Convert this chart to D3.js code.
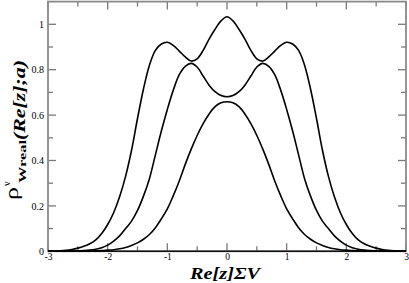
<!DOCTYPE html>
<html>
<head>
<meta charset="utf-8">
<script src="https://cdn.jsdelivr.net/npm/d3@7"></script>
<style>
  html, body { margin: 0; padding: 0; background: #fff; }
  svg { display: block; }
  svg text { font-family: "Liberation Serif", "Tinos", "Times New Roman", "DejaVu Serif", serif; }
</style>
</head>
<body>
<svg id="chart" width="409" height="283"></svg>
<script>
// ---- data ----
const xs = [-3.0,-2.9,-2.8,-2.7,-2.6,-2.5,-2.4,-2.3,-2.2,-2.1,-2.0,-1.9,-1.8,-1.7,-1.6,-1.5,-1.4,-1.3,-1.2,-1.1,-1.0,-0.9,-0.8,-0.7,-0.6,-0.5,-0.4,-0.3,-0.2,-0.1,0.0,
            0.1,0.2,0.3,0.4,0.5,0.6,0.7,0.8,0.9,1.0,1.1,1.2,1.3,1.4,1.5,1.6,1.7,1.8,1.9,2.0,2.1,2.2,2.3,2.4,2.5,2.6,2.7,2.8,2.9,3.0];

const rhoInner = [0,0,0,0,0,0.000,0.001,0.001,0.002,0.003,0.005,0.007,0.011,0.017,0.026,0.037,0.053,0.074,0.104,0.143,0.187,0.245,0.310,0.383,0.450,0.510,0.562,0.605,0.637,0.654,0.659,
                  0.654,0.637,0.605,0.562,0.510,0.450,0.383,0.310,0.245,0.187,0.143,0.104,0.074,0.053,0.037,0.026,0.017,0.011,0.007,0.005,0.003,0.002,0.001,0.001,0.000,0,0,0,0,0];

const rhoMiddle = [0,0,0,0.001,0.001,0.002,0.003,0.005,0.009,0.016,0.027,0.045,0.068,0.100,0.133,0.180,0.243,0.320,0.425,0.530,0.625,0.710,0.778,0.815,0.828,0.812,0.772,0.732,0.703,0.686,0.681,
                   0.686,0.703,0.732,0.772,0.812,0.828,0.815,0.778,0.710,0.625,0.530,0.425,0.320,0.243,0.180,0.133,0.100,0.068,0.045,0.027,0.016,0.009,0.005,0.003,0.002,0.001,0.001,0,0,0];

const rhoOuter = [0.000,0.001,0.002,0.004,0.008,0.014,0.022,0.033,0.050,0.078,0.118,0.170,0.240,0.330,0.445,0.585,0.715,0.820,0.885,0.913,0.921,0.907,0.882,0.856,0.838,0.848,0.885,0.935,0.978,1.015,1.033,
                  1.015,0.978,0.935,0.885,0.848,0.838,0.856,0.882,0.907,0.921,0.913,0.885,0.820,0.715,0.585,0.445,0.330,0.240,0.170,0.118,0.078,0.050,0.033,0.022,0.014,0.008,0.004,0.002,0.001,0.000];

const xMajorTicks = [-3,-2,-1,0,1,2,3];
const xTickLabels = ["-3","-2","-1","0","1","2","3"];
const xMinorTicks = [-2.5,-1.5,-0.5,0.5,1.5,2.5];
const yMajorTicks = [0,0.2,0.4,0.6,0.8,1.0];
const yTickLabels = ["0","0.2","0.4","0.6","0.8","1"];
const yMinorTicks = [0.1,0.3,0.5,0.7,0.9];

// ---- layout ----
const FONT = "'Liberation Serif', 'Tinos', 'Times New Roman', 'DejaVu Serif', serif";
const svg = d3.select("#chart");
const L = 48, R = 406, T = 1.6, B = 251.3;
const x = d3.scaleLinear().domain([-3, 3]).range([L, R]);
const y = d3.scaleLinear().domain([0, 1.1]).range([B, T]);

const tickColor = "#7a7a7a";
const g = svg.append("g");

function ticksH(vals, ypos, dir, len) {
  g.selectAll(null).data(vals).enter().append("line")
    .attr("x1", d => x(d)).attr("x2", d => x(d))
    .attr("y1", ypos).attr("y2", ypos + dir * len)
    .attr("stroke", tickColor).attr("stroke-width", 1.3);
}
function ticksV(vals, xpos, dir, len) {
  g.selectAll(null).data(vals).enter().append("line")
    .attr("y1", d => y(d)).attr("y2", d => y(d))
    .attr("x1", xpos).attr("x2", xpos + dir * len)
    .attr("stroke", tickColor).attr("stroke-width", 1.3);
}
ticksH(xMajorTicks, B, -1, 8); ticksH(xMinorTicks, B, -1, 5);
ticksH(xMajorTicks, T, 1, 8);  ticksH(xMinorTicks, T, 1, 5);
ticksV(yMajorTicks, L, 1, 8);  ticksV(yMinorTicks, L, 1, 5);
ticksV(yMajorTicks, R, -1, 8); ticksV(yMinorTicks, R, -1, 5);

g.append("rect").attr("x", L).attr("y", T).attr("width", R - L).attr("height", B - T)
  .attr("fill", "none").attr("stroke", "#8a8a8a").attr("stroke-width", 1.8);
g.append("line").attr("x1", L).attr("x2", R).attr("y1", B).attr("y2", B)
  .attr("stroke", "#111").attr("stroke-width", 1.6);

const xAxis = d3.axisBottom(x).tickValues(xMajorTicks)
  .tickFormat((d, i) => xTickLabels[i]).tickSize(0).tickPadding(1.5);
const xa = svg.append("g").attr("transform", `translate(0,${B})`).call(xAxis);
xa.attr("font-family", null).attr("font-size", null);
xa.select(".domain").remove();
xa.selectAll("text").attr("font-size", 9.5).style("font-family", FONT).attr("fill", "#000");

const yAxis = d3.axisLeft(y).tickValues(yMajorTicks)
  .tickFormat((d, i) => yTickLabels[i]).tickSize(0).tickPadding(4);
const ya = svg.append("g").attr("transform", `translate(${L},0)`).call(yAxis);
ya.attr("font-family", null).attr("font-size", null);
ya.select(".domain").remove();
ya.selectAll("text").attr("font-size", 10).style("font-family", FONT).attr("fill", "#000");

const line = d3.line().x(d => x(d[0])).y(d => y(d[1])).curve(d3.curveCatmullRom.alpha(0.5));
[rhoInner, rhoMiddle, rhoOuter].forEach(series => {
  svg.append("path").datum(xs.map((v, i) => [v, series[i]]))
    .attr("d", line).attr("fill", "none").attr("stroke", "#000").attr("stroke-width", 1.6);
});

svg.append("text").attr("x", 190).attr("y", 279).style("font-family", FONT)
  .attr("font-size", 17).attr("font-weight", "bold").attr("font-style", "italic")
  .attr("textLength", 70).attr("lengthAdjust", "spacingAndGlyphs")
  .text("Re[z]ΣV");

const yt = svg.append("g").attr("transform", "rotate(-90)");
yt.append("text").attr("x", -200).attr("y", 18).attr("font-size", 19).style("font-family", FONT)
  .attr("textLength", 13).attr("lengthAdjust", "spacingAndGlyphs").text("ρ");
yt.append("text").attr("x", -186).attr("y", 10).attr("font-size", 10).style("font-family", FONT).text("ν");
yt.append("text").attr("x", -183).attr("y", 26).attr("font-size", 11).attr("font-weight", "bold").style("font-family", FONT)
  .attr("textLength", 43).attr("lengthAdjust", "spacingAndGlyphs").text("Wreal");
yt.append("text").attr("x", -140).attr("y", 25).attr("font-size", 17).style("font-family", FONT)
  .attr("font-weight", "bold").attr("font-style", "italic")
  .attr("textLength", 80).attr("lengthAdjust", "spacingAndGlyphs").text("(Re[z];a)");
</script>
</body>
</html>
